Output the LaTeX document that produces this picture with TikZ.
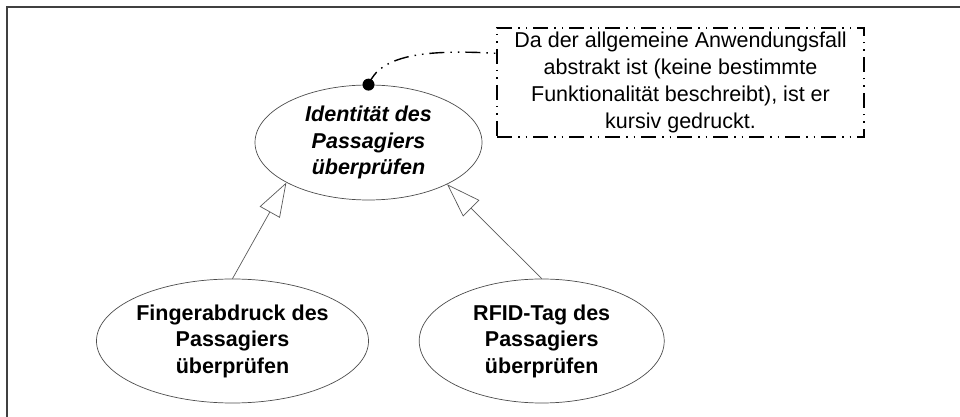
\documentclass[tikz,border=0pt]{standalone}
\usepackage{fontspec}
\setmainfont{Liberation Sans}
\usetikzlibrary{arrows.meta,positioning,shapes.geometric}

\begin{document}
\begin{tikzpicture}[
  x=1pt, y=1pt,
  usecase/.style={draw=black!70, line width=0.7pt, ellipse, inner sep=0pt, align=center,
    font=\fontsize{21.5}{26.5}\selectfont\bfseries},
  notebox/.style={draw, line width=1.4pt, dashdotdot, minimum width=367pt, minimum height=109pt,
    inner sep=0pt, align=center, font=\fontsize{21.5}{27}\selectfont},
  dashdotdot/.style={dash pattern=on 15pt off 6pt on 1.5pt off 6pt on 1.5pt off 6pt},
  generalize/.style={draw=black!65, line width=0.7pt, -{Triangle[open, length=34pt, width=23pt, fill=white]}},
  anchorline/.style={line width=1.4pt, dashdotdot},
]
  \useasboundingbox (0,0) rectangle (960,417);
  % frame
  \draw[line width=2pt, black!75] (6.5,0) -- (6.5,409.5) -- (960,409.5);

  \node[usecase, minimum width=227pt, minimum height=115pt] (idcheck) at (368.5,274.5)
    {\itshape Identität des\\\itshape Passagiers\\\itshape überprüfen};
  \node[usecase, minimum width=245pt, minimum height=124pt] (finger) at (232.5,76)
    {Fingerabdruck des\\Passagiers\\überprüfen};
  \node[usecase, minimum width=245pt, minimum height=124pt, right=50pt of finger] (rfid)
    {RFID-Tag des\\Passagiers\\überprüfen};
  \node[notebox] (note) at (680.5,334.5)
    {Da der allgemeine Anwendungsfall\\abstrakt ist (keine bestimmte\\Funktionalität beschreibt), ist er\\kursiv gedruckt.};

  \draw[generalize] (finger.north) -- (idcheck.206.7);
  \draw[generalize] (rfid.north) -- (idcheck.332.7);

  % note anchor
  \fill (idcheck.north) circle (6pt);
  \draw[anchorline] (idcheck.north) .. controls +(12,30) and +(-70,4) .. (note.171);
\end{tikzpicture}
\end{document}
